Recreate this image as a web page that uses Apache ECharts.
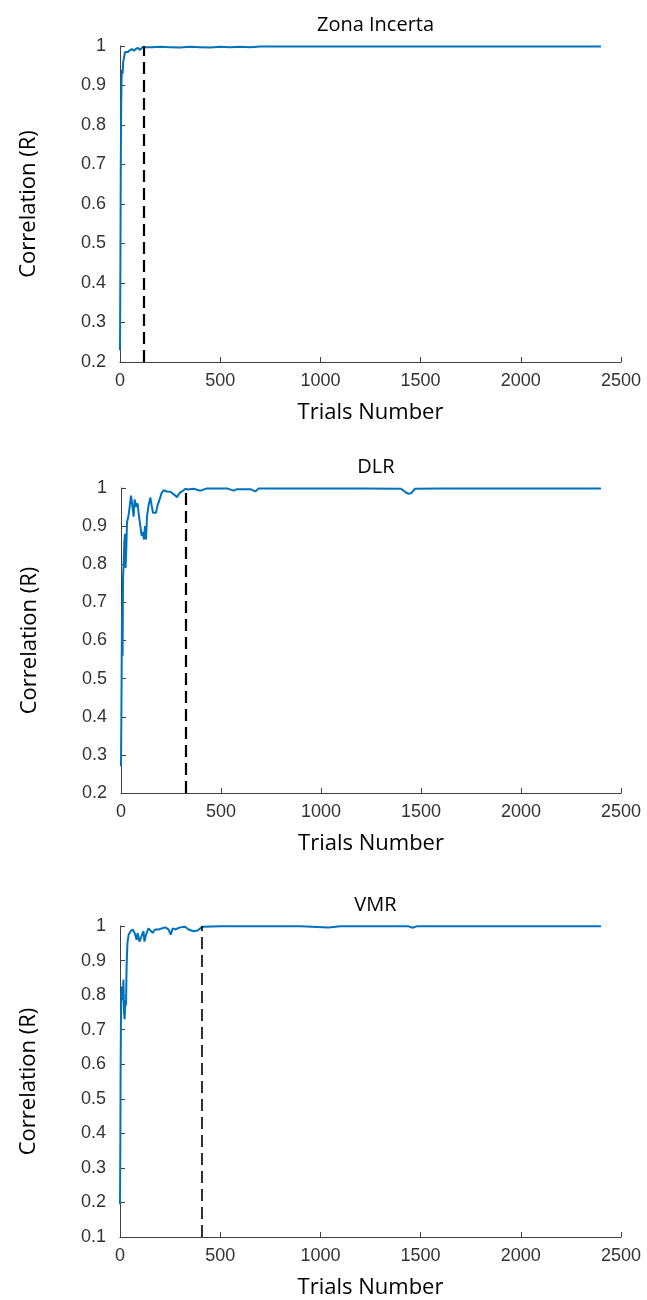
<!DOCTYPE html>
<html>
<head>
<meta charset="utf-8">
<title>Correlation vs trials</title>
<script src="https://cdn.jsdelivr.net/npm/echarts@6/dist/echarts.min.js"></script>
<style>
    html, body { margin: 0; padding: 0; background: #fff; }
    #chart { width: 647px; height: 1300px; }
</style>
</head>
<body>
<div id="chart"></div>
<script>
// panel titles
var titles = ['Zona Incerta', 'DLR', 'VMR'];

// Zona Incerta
var zonaTrials = [0, 2, 4, 6, 8, 10, 13, 16, 20, 25, 30, 40, 50, 60, 70, 80, 90, 100, 110, 130, 160, 200, 250, 300, 350, 400, 450, 500, 550, 600, 650, 700, 800, 900, 1000, 1200, 1400, 1600, 1800, 2000, 2200, 2400];
var zonaR = [0.23, 0.45, 0.7, 0.85, 0.92, 0.94, 0.93, 0.96, 0.97, 0.985, 0.99, 0.985, 0.99, 0.992, 0.988, 0.993, 0.995, 0.99, 0.996, 0.997, 0.997, 0.998, 0.997, 0.996, 0.998, 0.997, 0.996, 0.998, 0.997, 0.998, 0.997, 0.999, 0.999, 0.999, 0.999, 0.999, 0.999, 0.999, 0.999, 0.999, 0.999, 0.999];
var zonaCut = 120;

// DLR
var dlrTrials = [0, 2, 5, 8, 10, 13, 17, 20, 23, 27, 30, 37, 43, 50, 55, 63, 68, 77, 83, 90, 97, 103, 108, 115, 120, 125, 130, 138, 147, 153, 160, 168, 175, 183, 193, 203, 213, 230, 247, 257, 267, 280, 293, 305, 322, 333, 363, 397, 430, 530, 563, 580, 647, 672, 688, 800, 1000, 1200, 1400, 1420, 1435, 1450, 1470, 1600, 1800, 2000, 2200, 2400];
var dlrR = [0.27, 0.41, 0.67, 0.56, 0.76, 0.8, 0.86, 0.88, 0.79, 0.85, 0.91, 0.925, 0.95, 0.98, 0.96, 0.925, 0.97, 0.95, 0.96, 0.925, 0.9, 0.875, 0.885, 0.865, 0.9, 0.865, 0.925, 0.955, 0.975, 0.955, 0.935, 0.94, 0.935, 0.955, 0.97, 0.987, 0.994, 0.991, 0.99, 0.99, 0.982, 0.976, 0.987, 0.991, 0.998, 0.996, 0.998, 0.993, 0.999, 0.999, 0.993, 0.997, 0.997, 0.991, 0.999, 0.999, 0.999, 0.999, 0.998, 0.99, 0.985, 0.986, 0.998, 0.999, 0.999, 0.999, 0.999, 0.999];
var dlrCut = 325;

// VMR
var vmrTrials = [0, 2, 3, 5, 7, 10, 13, 17, 20, 23, 27, 30, 33, 37, 43, 53, 63, 73, 83, 88, 97, 107, 117, 122, 130, 142, 150, 163, 175, 192, 208, 225, 242, 253, 263, 275, 300, 325, 342, 367, 387, 400, 412, 500, 700, 900, 1040, 1100, 1300, 1440, 1460, 1480, 1700, 1900, 2100, 2400];
var vmrR = [0.195, 0.4, 0.575, 0.74, 0.795, 0.825, 0.785, 0.845, 0.75, 0.73, 0.785, 0.77, 0.885, 0.95, 0.975, 0.985, 0.99, 0.98, 0.96, 0.98, 0.955, 0.97, 0.985, 0.955, 0.975, 0.993, 0.996, 0.98, 0.99, 0.99, 0.993, 0.996, 0.99, 0.975, 0.993, 0.99, 0.996, 0.998, 0.99, 0.985, 0.987, 0.993, 0.998, 0.999, 0.999, 0.999, 0.996, 0.999, 0.999, 0.999, 0.995, 0.999, 0.999, 0.999, 0.999, 0.999];
var vmrCut = 410;

var yMins = [0.2, 0.2, 0.1];
var xTicks = { min: 0, max: 2500, interval: 500 };

function pairs(xs, ys) {
    var out = [];
    for (var i = 0; i < xs.length; i++) {
        out.push([xs[i], ys[i]]);
    }
    return out;
}

var series1 = [pairs(zonaTrials, zonaR), pairs(dlrTrials, dlrR), pairs(vmrTrials, vmrR)];
var cuts = [zonaCut, dlrCut, vmrCut];
var cutWidths = [2.2, 2.2, 1.6];

var grids = [
    { left: 120, top: 46, width: 501, height: 316 },
    { left: 121, top: 488, width: 500, height: 305 },
    { left: 120, top: 926, width: 501, height: 312 }
];

var axisColor = '#404040';
var tickFont = 'Liberation Sans';
var nameFont = 'Open Sans';

var xAxes = [], yAxes = [], series = [], titleList = [];
for (var k = 0; k < 3; k++) {
    titleList.push({
        text: titles[k],
        left: grids[k].left + grids[k].width / 2,
        top: grids[k].top - 36,
        textAlign: 'center',
        textStyle: { fontFamily: nameFont, fontSize: 20, fontWeight: 'normal', color: '#000' }
    });
    xAxes.push({
        gridIndex: k, type: 'value',
        min: xTicks.min, max: xTicks.max, interval: xTicks.interval,
        name: 'Trials Number', nameLocation: 'middle', nameGap: 40,
        nameTextStyle: { fontFamily: nameFont, fontSize: 22, color: '#000' },
        axisLine: { show: true, lineStyle: { color: axisColor, width: 1 } },
        axisTick: { show: true, inside: true, length: 5, lineStyle: { color: axisColor } },
        axisLabel: {
            fontFamily: tickFont, fontSize: 18, color: '#333', margin: 10,
            formatter: function (v) { return String(v); }
        },
        splitLine: { show: false }
    });
    yAxes.push({
        gridIndex: k, type: 'value',
        min: yMins[k], max: 1, interval: 0.1,
        name: 'Correlation (R)', nameLocation: 'middle', nameGap: 80, nameRotate: 90,
        nameTextStyle: { fontFamily: nameFont, fontSize: 22, color: '#000' },
        axisLine: { show: true, lineStyle: { color: axisColor, width: 1 } },
        axisTick: { show: true, inside: true, length: 5, lineStyle: { color: axisColor } },
        axisLabel: { fontFamily: tickFont, fontSize: 18, color: '#333', margin: 14 },
        splitLine: { show: false }
    });
    series.push({
        type: 'line', xAxisIndex: k, yAxisIndex: k,
        data: series1[k], showSymbol: false, symbol: 'none',
        lineStyle: { color: '#0072BD', width: 2 },
        z: 3,
        markLine: {
            silent: true, symbol: 'none', animation: false,
            label: { show: false },
            lineStyle: { color: '#000', width: cutWidths[k], type: [12, 6] },
            data: [{ xAxis: cuts[k] }]
        }
    });
}

var myChart = echarts.init(document.getElementById('chart'));
myChart.setOption({
    animation: false,
    backgroundColor: '#fff',
    title: titleList,
    grid: grids,
    xAxis: xAxes,
    yAxis: yAxes,
    series: series
});
</script>
</body>
</html>
